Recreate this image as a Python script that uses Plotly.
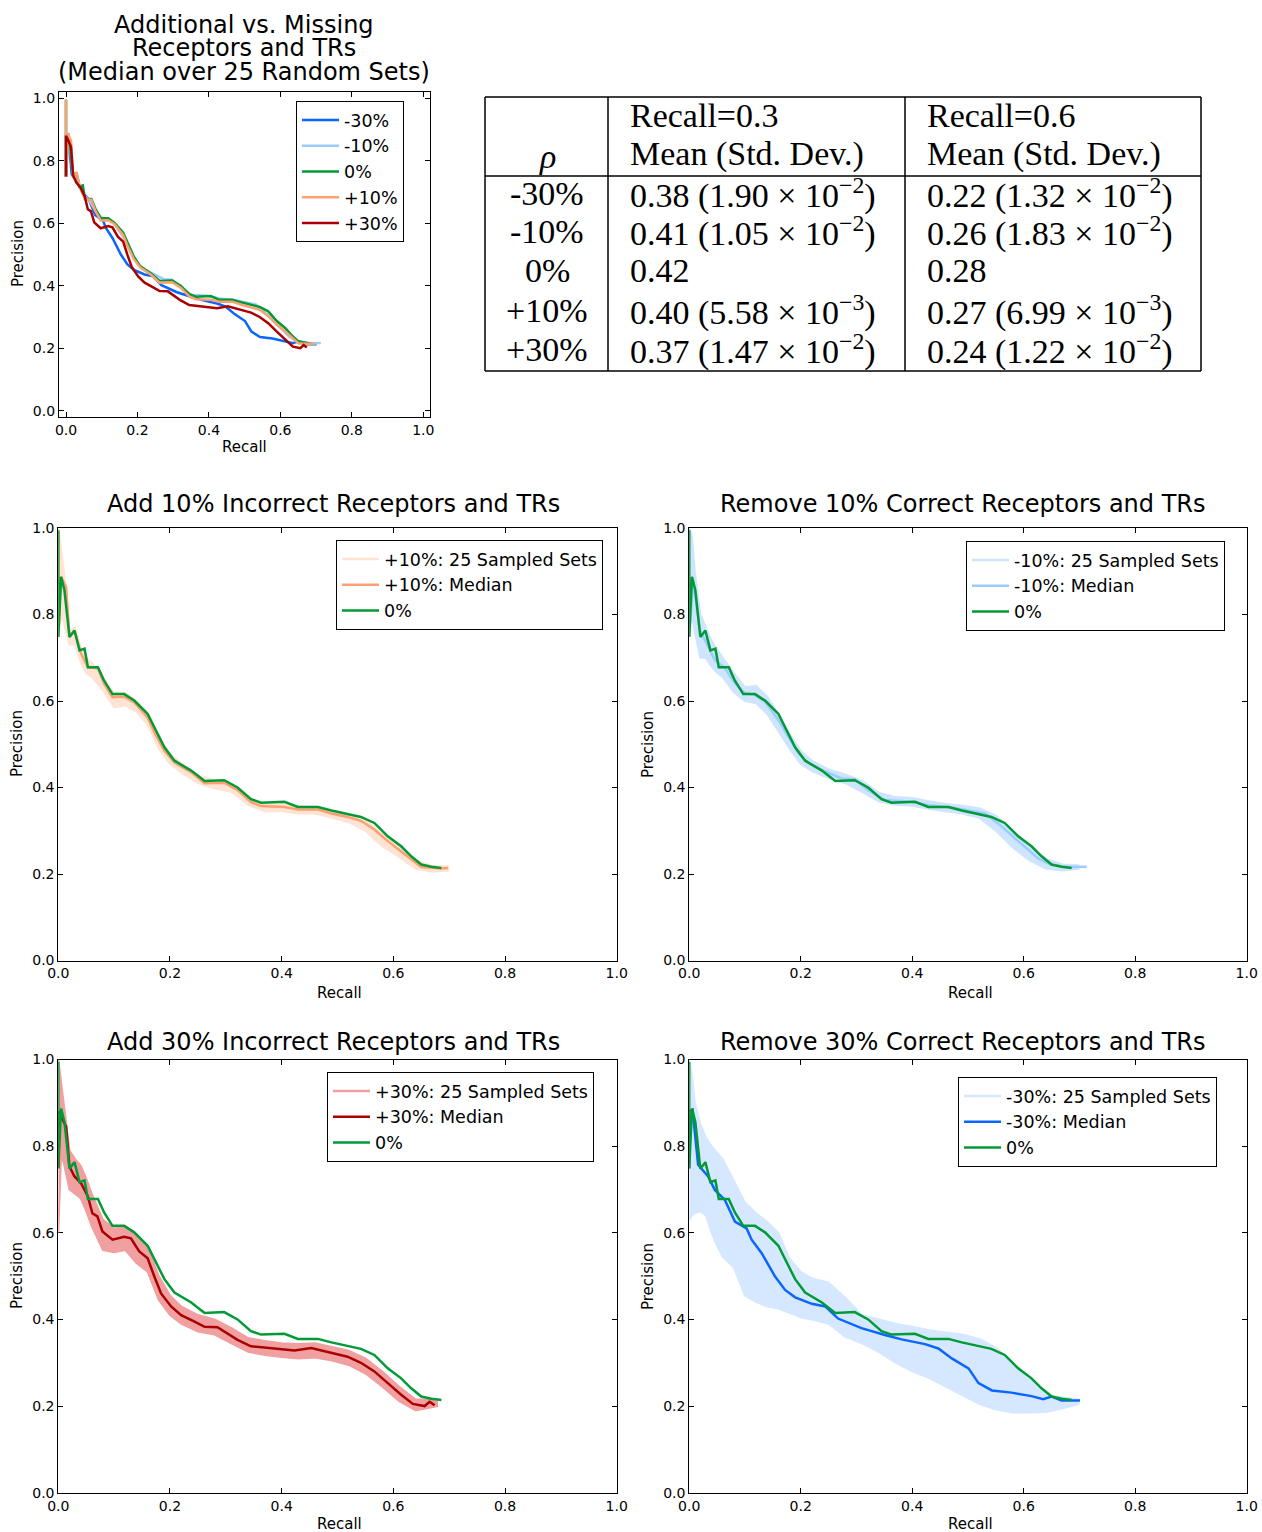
import plotly.graph_objects as go

W, H = 1262, 1532

# ---- data (recall, precision) ----
# 0% (reference set), shared by every panel
G_R = [0.0, 0.0, 0.005, 0.011, 0.020, 0.029, 0.038, 0.047, 0.053, 0.071, 0.082, 0.097, 0.118, 0.136, 0.160, 0.172, 0.190,
       0.208, 0.238, 0.262, 0.297, 0.321, 0.345, 0.363, 0.405, 0.429, 0.465, 0.489, 0.518, 0.542, 0.566, 0.590, 0.614,
       0.632, 0.650, 0.668, 0.686]
G_P = [0.995, 0.748, 0.887, 0.856, 0.748, 0.763, 0.717, 0.721, 0.678, 0.678, 0.647, 0.616, 0.616, 0.601, 0.570, 0.539,
       0.493, 0.462, 0.439, 0.415, 0.417, 0.400, 0.373, 0.365, 0.367, 0.355, 0.355, 0.347, 0.339, 0.332, 0.318, 0.287,
       0.264, 0.241, 0.222, 0.217, 0.214]

# medians
P10_R = [0.0, 0.0, 0.005, 0.014, 0.020, 0.029, 0.041, 0.053, 0.071, 0.082, 0.097, 0.118, 0.136, 0.160, 0.172, 0.190,
         0.208, 0.238, 0.262, 0.297, 0.321, 0.345, 0.363, 0.405, 0.429, 0.465, 0.489, 0.518, 0.542, 0.566, 0.590, 0.614,
         0.632, 0.650, 0.668, 0.686, 0.698]
P10_P = [0.995, 0.748, 0.887, 0.864, 0.748, 0.763, 0.709, 0.678, 0.675, 0.640, 0.609, 0.610, 0.597, 0.562, 0.528, 0.485,
         0.458, 0.435, 0.410, 0.411, 0.394, 0.366, 0.357, 0.355, 0.349, 0.349, 0.340, 0.332, 0.323, 0.303, 0.276, 0.253,
         0.234, 0.216, 0.214, 0.213, 0.214]

M10_R = [0.0, 0.0, 0.007, 0.019, 0.028, 0.046, 0.064, 0.082, 0.100, 0.118, 0.136, 0.160, 0.178, 0.196, 0.214, 0.244,
         0.273, 0.297, 0.321, 0.351, 0.399, 0.429, 0.471, 0.507, 0.531, 0.554, 0.578, 0.602, 0.626, 0.650, 0.680, 0.713]
M10_P = [0.995, 0.749, 0.880, 0.764, 0.741, 0.695, 0.676, 0.641, 0.618, 0.614, 0.598, 0.556, 0.517, 0.479, 0.456, 0.437,
         0.421, 0.419, 0.394, 0.371, 0.367, 0.359, 0.354, 0.346, 0.340, 0.317, 0.290, 0.263, 0.236, 0.221, 0.216, 0.217]

P30_R = [0.0, 0.0, 0.005, 0.014, 0.020, 0.029, 0.041, 0.053, 0.061, 0.070, 0.079, 0.097, 0.118, 0.130, 0.145, 0.160,
         0.172, 0.184, 0.202, 0.220, 0.244, 0.262, 0.285, 0.303, 0.321, 0.345, 0.381, 0.423, 0.453, 0.489, 0.518, 0.542,
         0.566, 0.590, 0.614, 0.635, 0.656, 0.665, 0.674]
P30_P = [0.750, 0.880, 0.868, 0.845, 0.753, 0.730, 0.714, 0.684, 0.645, 0.638, 0.603, 0.584, 0.591, 0.587, 0.557, 0.541,
         0.499, 0.460, 0.430, 0.410, 0.395, 0.383, 0.382, 0.368, 0.353, 0.338, 0.334, 0.328, 0.334, 0.323, 0.314, 0.300,
         0.280, 0.253, 0.226, 0.205, 0.200, 0.210, 0.202]

M30_R = [0.0, 0.0, 0.006, 0.016, 0.034, 0.046, 0.064, 0.082, 0.103, 0.112, 0.130, 0.154, 0.172, 0.190, 0.220, 0.244,
         0.267, 0.309, 0.351, 0.381, 0.423, 0.447, 0.471, 0.501, 0.519, 0.543, 0.578, 0.614, 0.635, 0.650, 0.668, 0.701]
M30_P = [0.750, 0.880, 0.884, 0.757, 0.730, 0.699, 0.676, 0.626, 0.610, 0.584, 0.553, 0.499, 0.468, 0.451, 0.436, 0.430,
         0.402, 0.380, 0.364, 0.354, 0.343, 0.333, 0.310, 0.287, 0.253, 0.236, 0.231, 0.223, 0.216, 0.222, 0.213, 0.213]

# spread of the 25 sampled sets (lower / upper envelope)
B_R = [0.0, 0.005, 0.01, 0.02, 0.03, 0.04, 0.05, 0.06, 0.08, 0.10, 0.12, 0.14, 0.16, 0.18, 0.20, 0.22, 0.25, 0.28,
       0.31, 0.34, 0.37, 0.40, 0.43, 0.46, 0.49, 0.52, 0.55, 0.58, 0.61, 0.64, 0.67, 0.70]
B_R30 = [0.0, 0.005, 0.01, 0.02, 0.03, 0.04, 0.05, 0.06, 0.08, 0.10, 0.12, 0.14, 0.16, 0.18, 0.20, 0.22, 0.25, 0.28,
         0.31, 0.34, 0.37, 0.40, 0.43, 0.46, 0.49, 0.52, 0.55, 0.58, 0.61, 0.64, 0.66, 0.68]
P10_LO = [0.75, 0.80, 0.78, 0.73, 0.73, 0.69, 0.665, 0.655, 0.625, 0.585, 0.59, 0.575, 0.545, 0.49, 0.455, 0.435, 0.41,
          0.398, 0.39, 0.36, 0.345, 0.345, 0.34, 0.34, 0.33, 0.32, 0.30, 0.265, 0.24, 0.212, 0.205, 0.208]
P10_HI = [1.0, 0.95, 0.90, 0.76, 0.77, 0.725, 0.70, 0.688, 0.655, 0.618, 0.618, 0.60, 0.572, 0.518, 0.478, 0.456, 0.428,
          0.416, 0.408, 0.378, 0.362, 0.362, 0.356, 0.356, 0.347, 0.338, 0.325, 0.292, 0.265, 0.232, 0.218, 0.218]
M10_LO = [0.75, 0.80, 0.76, 0.70, 0.70, 0.68, 0.665, 0.655, 0.62, 0.60, 0.595, 0.57, 0.53, 0.49, 0.455, 0.438, 0.422,
          0.41, 0.39, 0.368, 0.36, 0.358, 0.35, 0.345, 0.34, 0.33, 0.30, 0.262, 0.232, 0.212, 0.208, 0.212]
M10_HI = [1.0, 0.98, 0.90, 0.80, 0.77, 0.74, 0.72, 0.70, 0.665, 0.632, 0.635, 0.61, 0.57, 0.525, 0.485, 0.462, 0.442,
          0.43, 0.415, 0.388, 0.378, 0.376, 0.368, 0.362, 0.358, 0.352, 0.335, 0.302, 0.266, 0.235, 0.222, 0.22]
P30_LO = [0.60, 0.78, 0.76, 0.70, 0.69, 0.68, 0.65, 0.615, 0.56, 0.555, 0.56, 0.53, 0.51, 0.445, 0.41, 0.39, 0.372,
          0.365, 0.345, 0.325, 0.318, 0.313, 0.31, 0.312, 0.305, 0.295, 0.275, 0.245, 0.212, 0.19, 0.195, 0.20]
P30_HI = [1.0, 0.95, 0.90, 0.79, 0.77, 0.755, 0.725, 0.69, 0.63, 0.61, 0.615, 0.59, 0.565, 0.50, 0.455, 0.43, 0.41,
          0.40, 0.38, 0.357, 0.35, 0.345, 0.343, 0.345, 0.337, 0.328, 0.31, 0.28, 0.245, 0.215, 0.215, 0.21]
M30_LO = [0.63, 0.64, 0.645, 0.65, 0.64, 0.60, 0.57, 0.545, 0.52, 0.455, 0.44, 0.43, 0.425, 0.415, 0.405, 0.40, 0.39,
          0.36, 0.345, 0.325, 0.30, 0.28, 0.265, 0.245, 0.225, 0.205, 0.192, 0.185, 0.185, 0.186, 0.195, 0.205]
M30_HI = [1.0, 0.96, 0.90, 0.85, 0.82, 0.80, 0.785, 0.77, 0.72, 0.67, 0.645, 0.625, 0.60, 0.54, 0.51, 0.495, 0.485,
          0.45, 0.41, 0.40, 0.39, 0.383, 0.375, 0.37, 0.365, 0.355, 0.335, 0.30, 0.265, 0.225, 0.22, 0.215]

# table
TABLE_ROWS = ['-30%', '-10%', '0%', '+10%', '+30%']
TABLE_R03 = ['0.38 (1.90 × 10<sup>−2</sup>)', '0.41 (1.05 × 10<sup>−2</sup>)', '0.42',
             '0.40 (5.58 × 10<sup>−3</sup>)', '0.37 (1.47 × 10<sup>−2</sup>)']
TABLE_R06 = ['0.22 (1.32 × 10<sup>−2</sup>)', '0.26 (1.83 × 10<sup>−2</sup>)', '0.28',
             '0.27 (6.99 × 10<sup>−3</sup>)', '0.24 (1.22 × 10<sup>−2</sup>)']

TICKS = [0.0, 0.2, 0.4, 0.6, 0.8, 1.0]
TICK_LABELS = ['0.0', '0.2', '0.4', '0.6', '0.8', '1.0']

GREEN = '#009a36'
BLUE = '#0a66ff'
LBLUE = '#99ccff'
ORANGE = '#ffa070'
DRED = '#aa0000'
S_P10 = '#ffe3d4'
S_M10 = '#cfe5ff'
S_P30 = '#f0a0a0'
S_M30 = '#d6e8ff'

FONT = 'DejaVu Sans'


def px(x):
    return x / W


def py(y):
    return 1 - y / H


fig = go.Figure()


def line(xa, ya, r, p, color, name=None, legend='legend', width=2.5):
    fig.add_trace(go.Scatter(x=r, y=p, mode='lines', line=dict(color=color, width=width),
                             xaxis=xa, yaxis=ya, name=name, legend=legend,
                             showlegend=name is not None, hoverinfo='skip'))


def band(xa, ya, r, lo, hi, color, legend):
    fig.add_trace(go.Scatter(x=r, y=lo, mode='lines', line=dict(color=color, width=2), legend=legend,
                             xaxis=xa, yaxis=ya, showlegend=False, hoverinfo='skip'))
    fig.add_trace(go.Scatter(x=r, y=hi, mode='lines', line=dict(color=color, width=2), fill='tonexty',
                             fillcolor=color, legend=legend, xaxis=xa, yaxis=ya, showlegend=False,
                             hoverinfo='skip'))


def proxy(xa, ya, color, name, legend):
    fig.add_trace(go.Scatter(x=[None], y=[None], mode='lines', line=dict(color=color, width=2.5),
                             name=name, legend=legend, xaxis=xa, yaxis=ya))


# top-left: medians
line('x', 'y', M30_R, M30_P, BLUE, '-30%', 'legend')
line('x', 'y', M10_R, M10_P, LBLUE, '-10%', 'legend')
line('x', 'y', G_R, G_P, GREEN, '0%', 'legend')
line('x', 'y', P10_R, P10_P, ORANGE, '+10%', 'legend')
line('x', 'y', P30_R, P30_P, DRED, '+30%', 'legend')

# +10%
band('x2', 'y2', B_R, P10_LO, P10_HI, S_P10, 'legend2')
proxy('x2', 'y2', S_P10, '+10%: 25 Sampled Sets', 'legend2')
line('x2', 'y2', P10_R, P10_P, ORANGE, '+10%: Median', 'legend2')
line('x2', 'y2', G_R, G_P, GREEN, '0%', 'legend2')

# -10%
band('x3', 'y3', B_R, M10_LO, M10_HI, S_M10, 'legend3')
proxy('x3', 'y3', S_M10, '-10%: 25 Sampled Sets', 'legend3')
line('x3', 'y3', M10_R, M10_P, LBLUE, '-10%: Median', 'legend3')
line('x3', 'y3', G_R, G_P, GREEN, '0%', 'legend3')

# +30%
band('x4', 'y4', B_R30, P30_LO, P30_HI, S_P30, 'legend4')
proxy('x4', 'y4', S_P30, '+30%: 25 Sampled Sets', 'legend4')
line('x4', 'y4', P30_R, P30_P, DRED, '+30%: Median', 'legend4')
line('x4', 'y4', G_R, G_P, GREEN, '0%', 'legend4')

# -30%
band('x5', 'y5', B_R, M30_LO, M30_HI, S_M30, 'legend5')
proxy('x5', 'y5', S_M30, '-30%: 25 Sampled Sets', 'legend5')
line('x5', 'y5', M30_R, M30_P, BLUE, '-30%: Median', 'legend5')
line('x5', 'y5', G_R, G_P, GREEN, '0%', 'legend5')

# axes: (x px range, y px range, data range)
PANELS = [
    ((58.85, 430.45), (92.05, 416.95), [-0.02, 1.02]),
    ((58.3, 616.7), (528.0, 960.5), [0, 1]),
    ((689.2, 1246.7), (528.0, 960.5), [0, 1]),
    ((58.3, 616.7), (1059.5, 1492.7), [0, 1]),
    ((689.2, 1246.7), (1059.5, 1492.7), [0, 1]),
]

axis_style = dict(showline=True, linecolor='black', linewidth=1, mirror='allticks', ticks='inside',
                  ticklen=5, tickcolor='black', tickvals=TICKS, ticktext=TICK_LABELS, showgrid=False,
                  zeroline=False, layer='below traces', automargin=False,
                  tickfont=dict(family=FONT, size=14, color='black'))

layout = {}
for i, (xs, ys, rng) in enumerate(PANELS, start=1):
    sfx = '' if i == 1 else str(i)
    layout['xaxis' + sfx] = dict(domain=[px(xs[0]), px(xs[1])], range=rng, anchor='y' + sfx, **axis_style)
    layout['yaxis' + sfx] = dict(domain=[py(ys[1]), py(ys[0])], range=rng, anchor='x' + sfx, **axis_style)

legend_style = dict(bgcolor='white', bordercolor='black', borderwidth=1, xanchor='left', yanchor='top',
                    font=dict(family=FONT, size=17.5, color='black'), tracegroupgap=0, traceorder='normal',
                    itemwidth=37)
LEGEND_POS = {'legend': (296, 101), 'legend2': (336, 540), 'legend3': (966, 541),
              'legend4': (327, 1072), 'legend5': (958, 1077)}
for k, (lx, ly) in LEGEND_POS.items():
    layout[k] = dict(x=px(lx), y=py(ly), **legend_style)

annotations = []


def text(x, y, s, size, angle=0, family=FONT, xanchor='center'):
    annotations.append(dict(x=px(x), y=py(y), xref='paper', yref='paper', text=s, showarrow=False,
                            textangle=angle, xanchor=xanchor, yanchor='middle',
                            font=dict(family=family, size=size, color='black')))


# titles
text(244, 25, 'Additional vs. Missing', 24)
text(244, 48, 'Receptors and TRs', 24)
text(244, 72, '(Median over 25 Random Sets)', 24)
text(333, 504, 'Add 10% Incorrect Receptors and TRs', 24)
text(963, 504, 'Remove 10% Correct Receptors and TRs', 24)
text(333, 1042, 'Add 30% Incorrect Receptors and TRs', 24)
text(963, 1042, 'Remove 30% Correct Receptors and TRs', 24)

# axis titles
for x, y in [(18, 254), (17, 744), (648, 744), (17, 1276), (648, 1276)]:
    text(x, y, 'Precision', 15, angle=-90)
for x, y in [(244, 447), (339, 993), (970, 993), (339, 1524), (970, 1524)]:
    text(x, y, 'Recall', 15)

# table
SERIF = 'Liberation Serif'
TS = 34
text(628, 115, 'Recall=0.3', TS, family=SERIF, xanchor='left')
text(925, 115, 'Recall=0.6', TS, family=SERIF, xanchor='left')
text(628, 154, 'Mean (Std. Dev.)', TS, family=SERIF, xanchor='left')
text(925, 154, 'Mean (Std. Dev.)', TS, family=SERIF, xanchor='left')
text(547, 157, '<i>ρ</i>', TS, family=SERIF)
ROW_Y = [193, 232, 271, 310, 349]
for yy, lab, a, b in zip(ROW_Y, TABLE_ROWS, TABLE_R03, TABLE_R06):
    text(547, yy, lab, TS, family=SERIF)
    text(628, yy, a, TS, family=SERIF, xanchor='left')
    text(925, yy, b, TS, family=SERIF, xanchor='left')

shapes = []
for (x0, y0, x1, y1) in [(485, 97, 1201, 97), (485, 371, 1201, 371), (485, 97, 485, 371), (1201, 97, 1201, 371),
                         (608, 97, 608, 371), (905, 97, 905, 371), (485, 176, 1201, 176)]:
    shapes.append(dict(type='line', xref='paper', yref='paper', x0=px(x0), y0=py(y0), x1=px(x1), y1=py(y1),
                       line=dict(color='black', width=1.5)))

fig.update_layout(width=W, height=H, margin=dict(l=0, r=0, t=0, b=0, pad=0, autoexpand=False),
                  paper_bgcolor='white', plot_bgcolor='white', font=dict(family=FONT, color='black'),
                  annotations=annotations, shapes=shapes, **layout)

# drop the page margin so the figure sits at the window's corner
fig.write_html('out.html', config={'displayModeBar': False},
               post_script="document.body.style.margin='0';document.body.style.overflow='hidden';")
